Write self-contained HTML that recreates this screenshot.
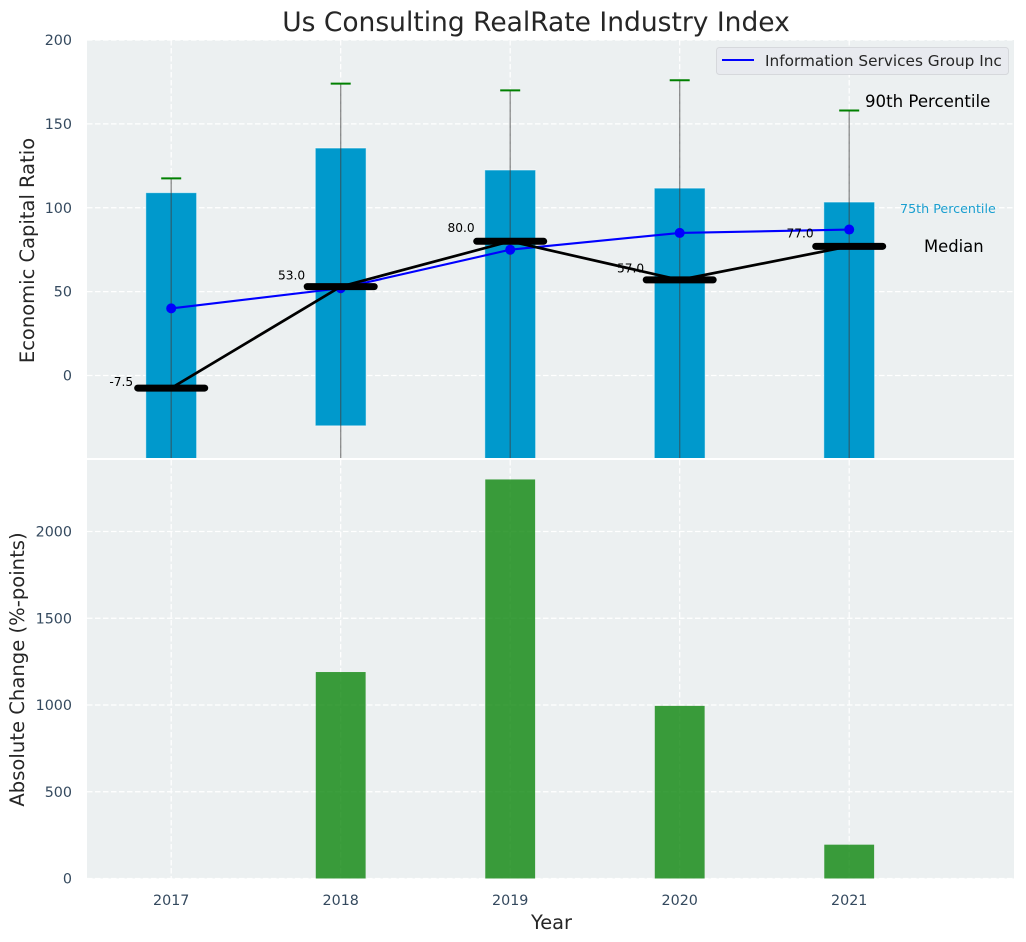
<!DOCTYPE html>
<html>
<head>
<meta charset="utf-8">
<title>Us Consulting RealRate Industry Index</title>
<style>
html,body{margin:0;padding:0;background:#fff;width:1026px;height:942px;overflow:hidden}
svg{display:block}
text{font-family:"DejaVu Sans","Liberation Sans",sans-serif}
</style>
</head>
<body>
<svg id="chart" xmlns="http://www.w3.org/2000/svg" width="1026" height="942" viewBox="0 0 1026 942">
<defs>
<clipPath id="clip-top"><rect x="87" y="40" width="927" height="418"/></clipPath>
<clipPath id="clip-bottom"><rect x="87" y="460" width="927" height="418.5"/></clipPath>
</defs>
<text x="536" y="31" text-anchor="middle" font-size="26.5" fill="#262626">Us Consulting RealRate Industry Index</text>
<rect x="87" y="40" width="927" height="418" fill="#ecf0f1"/>
<rect x="87" y="460" width="927" height="418.5" fill="#ecf0f1"/>
<g id="top-grid"></g>
<g id="bottom-grid"></g>
<g id="top-marks" clip-path="url(#clip-top)"></g>
<g id="bottom-marks" clip-path="url(#clip-bottom)"></g>
<g id="axis-labels"></g>
<text transform="translate(34,250.5) rotate(-90)" text-anchor="middle" font-size="19.5" fill="#262626">Economic Capital Ratio</text>
<text transform="translate(24,669.5) rotate(-90)" text-anchor="middle" font-size="19.6" fill="#262626">Absolute Change (%-points)</text>
<text x="551.5" y="929" text-anchor="middle" font-size="19.4" fill="#262626">Year</text>
<g>
<rect x="716.5" y="47.5" width="292" height="27" rx="3" fill="#e8eaef" stroke="#d6d8dc" stroke-width="1"/>
<line x1="722" y1="60" x2="754" y2="60" stroke="#0000ff" stroke-width="2"/>
<text x="765" y="66" font-size="15.3" fill="#262626">Information Services Group Inc</text>
</g>
<text x="865" y="107" font-size="16.6" fill="#000">90th Percentile</text>
<text x="900" y="213" font-size="12.7" fill="#1a9fd0">75th Percentile</text>
<text x="924" y="252" font-size="16.4" fill="#000">Median</text>
</svg>
<script>
const years = [2017, 2018, 2019, 2020, 2021];
const p75 = [109, 135.6, 122.5, 111.7, 103.4];
const p25 = [-62, -30, -58, -60, -64];
const p90 = [117.5, 174, 170, 176, 158];
const p10 = [-70, -72, -75, -74, -76];
const medians = [-7.5, 53, 80, 57, 77];
const companyValues = [40, 52, 75, 85, 87];
const absoluteChange = [0, 1190, 2300, 995, 195];
const topTicks = [0, 50, 100, 150, 200];
const bottomTicks = [0, 500, 1000, 1500, 2000];

const NS = 'http://www.w3.org/2000/svg';
const xScale = v => 171.2 + (v - 2017) * 169.5;
const yTop = v => 375.5 - v * 1.6775;
const yBottom = v => 878.5 - v * 0.1735;

function make(tag, parent, attrs, txt) {
  const el = document.createElementNS(NS, tag);
  for (const k in attrs) el.setAttribute(k, attrs[k]);
  if (txt !== undefined) el.textContent = txt;
  parent.appendChild(el);
  return el;
}
const topGrid = document.getElementById('top-grid');
const bottomGrid = document.getElementById('bottom-grid');
const topMarks = document.getElementById('top-marks');
const bottomMarks = document.getElementById('bottom-marks');
const labels = document.getElementById('axis-labels');
const gridStyle = {stroke: '#ffffff', 'stroke-width': 1.2, 'stroke-dasharray': '5.5 2.5'};
const tickStyle = {'font-size': 14.3, fill: '#34495e'};

topTicks.forEach(t => {
  const g = make('line', topGrid, Object.assign({x1: 87, x2: 1014, y1: yTop(t), y2: yTop(t)}, gridStyle));
  
  
  const l = make('text', labels, Object.assign({x: 72, y: yTop(t) + 5, 'text-anchor': 'end'}, tickStyle), String(t));
  
  
});
bottomTicks.forEach(t => {
  const g = make('line', bottomGrid, Object.assign({x1: 87, x2: 1014, y1: yBottom(t), y2: yBottom(t)}, gridStyle));
  
  
  const l = make('text', labels, Object.assign({x: 72, y: yBottom(t) + 5, 'text-anchor': 'end'}, tickStyle), String(t));
  
  
});
years.forEach(y => {
  const g1 = make('line', topGrid, Object.assign({x1: xScale(y), x2: xScale(y), y1: 40, y2: 458}, gridStyle));
  
  
  const g2 = make('line', bottomGrid, Object.assign({x1: xScale(y), x2: xScale(y), y1: 460, y2: 878.5}, gridStyle));
  
  
  const l = make('text', labels, Object.assign({x: xScale(y), y: 905, 'text-anchor': 'middle'}, tickStyle), String(y));
  
  
});

const barHalf = 0.15 * 169.5;
years.forEach((y, i) => {
  const bar = make('rect', topMarks, {x: xScale(y) - barHalf, y: yTop(p75[i]), width: barHalf * 2, height: yTop(p25[i]) - yTop(p75[i]), fill: '#0099cc', stroke: '#ffffff', 'stroke-opacity': 0.55, 'stroke-width': 1});
  
  
});
years.forEach((y, i) => {
  const w = make('line', topMarks, {x1: xScale(y), x2: xScale(y), y1: yTop(p90[i]), y2: yTop(p10[i]), stroke: '#3f3f3f', 'stroke-opacity': 0.6, 'stroke-width': 1.3});
  
  
  const c = make('line', topMarks, {x1: xScale(y) - 10, x2: xScale(y) + 10, y1: yTop(p90[i]), y2: yTop(p90[i]), stroke: '#008000', 'stroke-width': 2});
  
  
});

const companyLine = make('polyline', topMarks, {points: years.map((y, i) => xScale(y) + ',' + yTop(companyValues[i])).join(' '), fill: 'none', stroke: '#0000ff', 'stroke-width': 2.1});


years.forEach((y, i) => {
  const p = make('circle', topMarks, {cx: xScale(y), cy: yTop(companyValues[i]), r: 5, fill: '#0000ff'});
  
  
});

const medianLine = make('polyline', topMarks, {points: years.map((y, i) => xScale(y) + ',' + yTop(medians[i])).join(' '), fill: 'none', stroke: '#000', 'stroke-width': 2.7});


years.forEach((y, i) => {
  const m = make('line', topMarks, {x1: xScale(y) - 33.5, x2: xScale(y) + 33.5, y1: yTop(medians[i]), y2: yTop(medians[i]), stroke: '#000', 'stroke-width': 7, 'stroke-linecap': 'round'});
  
  
  const t = make('text', topMarks, {x: xScale(y) - (medians[i] < 0 ? 38 : 35.5), y: yTop(medians[i] * 1.05) - 2.6, 'text-anchor': 'end', 'font-size': 12.2, fill: '#000'}, medians[i].toFixed(1));
  
  
});

years.forEach((y, i) => {
  const b = make('rect', bottomMarks, {x: xScale(y) - barHalf + 0.5, y: yBottom(absoluteChange[i]), width: barHalf * 2 - 1, height: 878.5 - yBottom(absoluteChange[i]), fill: '#008000', 'fill-opacity': 0.76});
  
  
});
</script>
</body>
</html>
